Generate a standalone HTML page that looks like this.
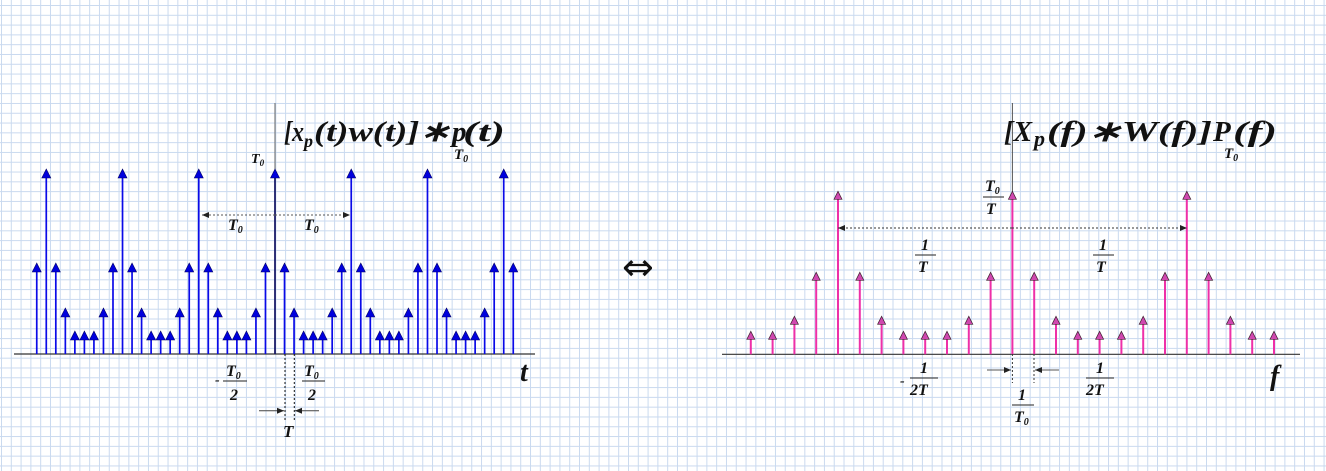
<!DOCTYPE html>
<html><head><meta charset="utf-8">
<style>
html,body{margin:0;padding:0;width:1326px;height:471px;overflow:hidden;background:#fff;}
#bg{position:absolute;left:0;top:0;width:1326px;height:471px;
background-image:linear-gradient(to right,#c9d9ef 1px,transparent 1px),linear-gradient(to bottom,#c9d9ef 1px,transparent 1px);
background-size:9.8px 9.8px;background-position:1px 5px;}
svg{position:absolute;left:0;top:0;}
text{font-family:"Liberation Serif",serif;font-style:italic;font-weight:bold;fill:#111;}
</style></head><body>
<div id="bg"></div>
<svg id="c" width="1326" height="471">
<defs>
<marker id="ah" markerWidth="8" markerHeight="8" refX="7" refY="4" orient="auto" markerUnits="userSpaceOnUse"><path d="M0,1 L7,4 L0,7 Z" fill="#222"/></marker>
</defs>
<g id="left"></g>
<g id="right"></g>
<g>
<g>
<text x="284" y="141" font-size="29" textLength="20" lengthAdjust="spacingAndGlyphs">[x</text>
<text x="304" y="147" font-size="18">p</text>
<text x="314" y="141" font-size="29" textLength="136" lengthAdjust="spacingAndGlyphs">(t)w(t)]∗</text>
<text x="452" y="141" font-size="29">p</text>
<text x="463" y="141" font-size="29" textLength="42" lengthAdjust="spacingAndGlyphs">(t)</text>
<text x="454" y="159" font-size="15">T<tspan font-size="10" dy="3">0</tspan></text>
</g>
<text x="251" y="163" font-size="14">T<tspan font-size="9" dy="3">0</tspan></text>
<line x1="275" y1="215" x2="202" y2="215" stroke="#555" stroke-dasharray="2,2" marker-end="url(#ah)"/>
<line x1="275" y1="215" x2="350" y2="215" stroke="#555" stroke-dasharray="2,2" marker-end="url(#ah)"/>
<text x="228" y="230" font-size="16">T<tspan font-size="10" dy="3">0</tspan></text>
<text x="304" y="230" font-size="16">T<tspan font-size="10" dy="3">0</tspan></text>
<text x="215" y="384" font-size="14">-</text>
<text x="226" y="376" font-size="16">T<tspan font-size="10" dy="3">0</tspan></text>
<line x1="223" y1="381" x2="247" y2="381" stroke="#222" stroke-width="1"/>
<text x="230" y="400" font-size="16">2</text>
<text x="304" y="376" font-size="16">T<tspan font-size="10" dy="3">0</tspan></text>
<line x1="302" y1="381" x2="325" y2="381" stroke="#222" stroke-width="1"/>
<text x="308" y="400" font-size="16">2</text>
<line x1="285" y1="354" x2="285" y2="422" stroke="#111" stroke-dasharray="2,2"/>
<line x1="294.3" y1="354" x2="294.3" y2="422" stroke="#111" stroke-dasharray="2,2"/>
<line x1="259" y1="410.7" x2="284" y2="410.7" stroke="#444" marker-end="url(#ah)"/>
<line x1="319" y1="410.7" x2="295" y2="410.7" stroke="#444" marker-end="url(#ah)"/>
<text x="283" y="437" font-size="17">T</text>
<text x="520" y="381" font-size="28">t</text>

<text x="622" y="280" font-size="38" style="font-style:normal;font-weight:normal;font-family:'DejaVu Sans',sans-serif">⇔</text>

<g>
<text x="1004" y="141" font-size="29" textLength="28" lengthAdjust="spacingAndGlyphs">[X</text>
<text x="1034" y="146" font-size="22">p</text>
<text x="1047" y="141" font-size="29" textLength="165" lengthAdjust="spacingAndGlyphs">(f)∗W(f)]</text>
<text x="1213" y="141" font-size="29">P</text>
<text x="1233" y="141" font-size="29" textLength="44" lengthAdjust="spacingAndGlyphs">(f)</text>
<text x="1224" y="158" font-size="15">T<tspan font-size="10" dy="3">0</tspan></text>
</g>
<text x="985" y="191" font-size="16">T<tspan font-size="10" dy="3">0</tspan></text>
<line x1="983" y1="197" x2="1004" y2="197" stroke="#222"/>
<text x="986" y="214" font-size="16">T</text>
<line x1="1012" y1="228" x2="838" y2="228" stroke="#333" stroke-dasharray="2,2" marker-end="url(#ah)"/>
<line x1="1012" y1="228" x2="1187" y2="228" stroke="#333" stroke-dasharray="2,2" marker-end="url(#ah)"/>
<text x="921" y="250" font-size="16">1</text>
<line x1="915" y1="255" x2="936" y2="255" stroke="#222"/>
<text x="918" y="272" font-size="16">T</text>
<text x="1099" y="250" font-size="16">1</text>
<line x1="1093" y1="255" x2="1114" y2="255" stroke="#222"/>
<text x="1096" y="272" font-size="16">T</text>
<text x="900" y="385" font-size="14">-</text>
<text x="920" y="373" font-size="16">1</text>
<line x1="910" y1="378" x2="938" y2="378" stroke="#222"/>
<text x="910" y="395" font-size="16">2T</text>
<text x="1096" y="373" font-size="16">1</text>
<line x1="1086" y1="378" x2="1114" y2="378" stroke="#222"/>
<text x="1086" y="395" font-size="16">2T</text>
<line x1="1012.4" y1="354" x2="1012.4" y2="383" stroke="#333" stroke-dasharray="2,2"/>
<line x1="1034" y1="354" x2="1034" y2="383" stroke="#333" stroke-dasharray="2,2"/>
<line x1="987" y1="370" x2="1011" y2="370" stroke="#555" marker-end="url(#ah)"/>
<line x1="1059" y1="370" x2="1035" y2="370" stroke="#555" marker-end="url(#ah)"/>
<text x="1018" y="400" font-size="16">1</text>
<line x1="1012" y1="405" x2="1034" y2="405" stroke="#222"/>
<text x="1014" y="422" font-size="16">T<tspan font-size="10" dy="3">0</tspan></text>
<text x="1270" y="385" font-size="28">f</text>
</g>
</svg>
<script>
const leftIdx = [];
for (let i = -25; i <= 25; i++) leftIdx.push(i);
const leftLevels = [185, 91, 46, 23, 23, 23, 46, 91];
const rightIdx = [];
for (let i = -12; i <= 12; i++) rightIdx.push(i);
const rightLevels = [163, 82, 38, 23, 23, 23, 38, 82];

const NS = "http://www.w3.org/2000/svg";
const L = document.getElementById('left'), R = document.getElementById('right');
const lx = i => 275 + i * 9.53, ly = v => 354 - v;
const rx = i => 1012.4 + i * 21.8, ry = v => 354.3 - v;
function mk(tag, attrs, parent){const e=document.createElementNS(NS,tag);for(const k in attrs)e.setAttribute(k,attrs[k]);parent.appendChild(e);return e;}

let a = mk('line',{x1:14,y1:354,x2:535,y2:354,stroke:'#333','stroke-width':1.2},L);


a = mk('line',{x1:275,y1:103,x2:275,y2:354,stroke:'#666','stroke-width':1},L);


leftIdx.forEach(i=>{
  const h = leftLevels[((i%8)+8)%8];
  const x = lx(i), top = ly(h);
  const g = mk('g',{},L);
  
  
  const col = i===0 ? '#101060' : '#0a0ae8';
  mk('line',{x1:x,y1:354,x2:x,y2:top+5,stroke:col,'stroke-width':1.7},g);
  mk('path',{d:`M${x-4.5},${top+9} L${x},${top} L${x+4.5},${top+9} Z`,fill:'#0000dd',stroke:'#000066','stroke-width':0.6},g);
});
a = mk('line',{x1:722,y1:354.3,x2:1300,y2:354.3,stroke:'#333','stroke-width':1.2},R);


a = mk('line',{x1:1012.4,y1:103,x2:1012.4,y2:354,stroke:'#555','stroke-width':1},R);


rightIdx.forEach(i=>{
  const h = rightLevels[((i%8)+8)%8];
  const x = rx(i), top = ry(h);
  const g = mk('g',{},R);
  
  
  mk('line',{x1:x,y1:354.3,x2:x,y2:top+4,stroke:'#ee30a8','stroke-width':2},g);
  mk('path',{d:`M${x-4},${top+8} L${x},${top} L${x+4},${top+8} Z`,fill:'#d048b0',stroke:'#402030','stroke-width':0.7},g);
});
</script>
</body></html>
